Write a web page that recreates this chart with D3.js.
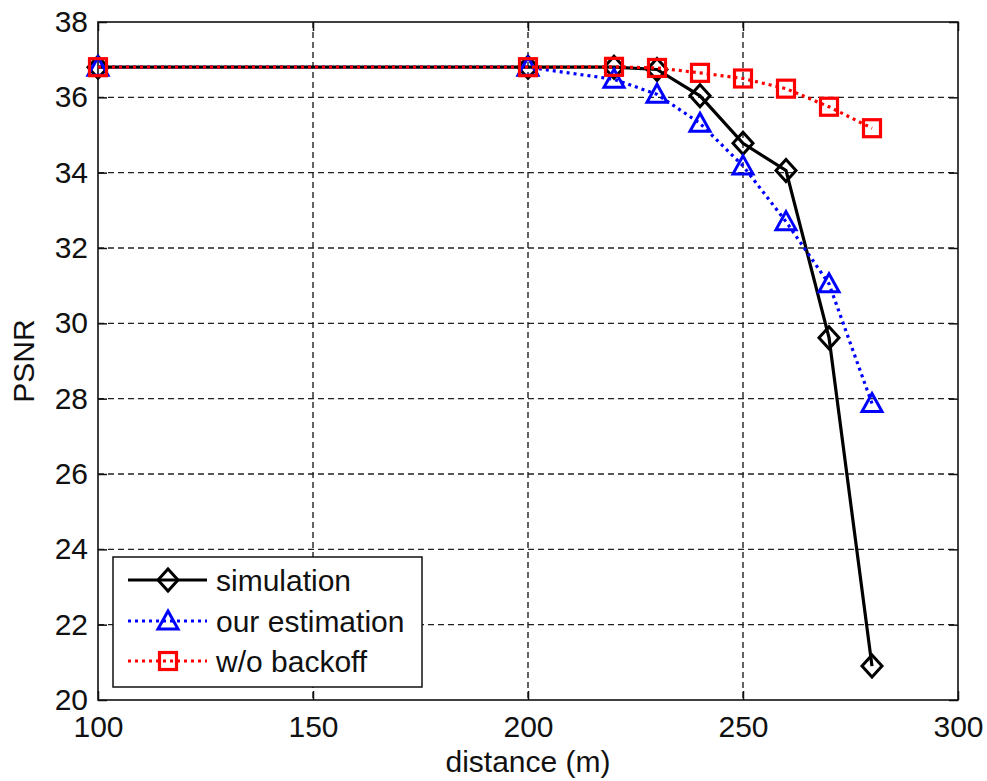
<!DOCTYPE html>
<html>
<head>
<meta charset="utf-8">
<script src="https://cdn.jsdelivr.net/npm/d3@7"></script>
<style>
  html, body { margin: 0; padding: 0; background: #fff; }
  svg { display: block; }
  text { font-family: Arial, "Liberation Sans", sans-serif; fill: #111; }
</style>
</head>
<body>
<script>
// PSNR versus distance for three schemes
const distance = [100, 200, 220, 230, 240, 250, 260, 270, 280];
const simulation = [36.8, 36.8, 36.8, 36.74, 36.04, 34.78, 34.06, 29.62, 20.9];
const ourEstimation = [36.8, 36.8, 36.48, 36.08, 35.31, 34.18, 32.7, 31.05, 27.87];
const withoutBackoff = [36.8, 36.8, 36.81, 36.78, 36.65, 36.5, 36.23, 35.75, 35.18];

const xTicks = [100, 150, 200, 250, 300];
const yTicks = [20, 22, 24, 26, 28, 30, 32, 34, 36, 38];
const seriesNames = ["simulation", "our estimation", "w/o backoff"];

const W = 987, H = 781;
const plotL = 98, plotR = 958, plotT = 22, plotB = 700;

const svg = d3.select("body").append("svg").attr("width", W).attr("height", H);

const x = d3.scaleLinear().domain([100, 300]).range([plotL, plotR]);
const y = d3.scaleLinear().domain([20, 38]).range([plotB, plotT]);

// dashed grid
const grid = svg.append("g");
grid.selectAll("line.gx").data(xTicks.slice(1, -1)).enter().append("line")
  .attr("x1", d => x(d)).attr("x2", d => x(d)).attr("y1", plotT).attr("y2", plotB)
  .attr("stroke", "#222").attr("stroke-width", 1.4).attr("stroke-dasharray", "6,4");
grid.selectAll("line.gy").data(yTicks.slice(1, -1)).enter().append("line")
  .attr("x1", plotL).attr("x2", plotR).attr("y1", d => y(d)).attr("y2", d => y(d))
  .attr("stroke", "#222").attr("stroke-width", 1.4).attr("stroke-dasharray", "6,4");

// axes with inward ticks on all four sides
function styleAxis(g, showText) {
  g.select(".domain").remove();
  g.selectAll(".tick line").attr("stroke", "#111").attr("stroke-width", 1.5);
  g.selectAll(".tick text").style("font-size", "30px").attr("fill", "#111")
    .style("font-family", "Arial, 'Liberation Sans', sans-serif");
  if (!showText) g.selectAll(".tick text").remove();
}
svg.append("g").attr("transform", `translate(0,${plotB})`)
  .call(d3.axisBottom(x).tickValues(xTicks).tickSize(-9).tickPadding(16).tickFormat(d3.format("d")))
  .call(g => styleAxis(g, true));
svg.append("g").attr("transform", `translate(0,${plotT})`)
  .call(d3.axisTop(x).tickValues(xTicks).tickSize(-9))
  .call(g => styleAxis(g, false));
svg.append("g").attr("transform", `translate(${plotL},0)`)
  .call(d3.axisLeft(y).tickValues(yTicks).tickSize(-9).tickPadding(10).tickFormat(d3.format("d")))
  .call(g => styleAxis(g, true));
svg.append("g").attr("transform", `translate(${plotR},0)`)
  .call(d3.axisRight(y).tickValues(yTicks).tickSize(-9))
  .call(g => styleAxis(g, false));

svg.append("rect").attr("x", plotL).attr("y", plotT).attr("width", plotR - plotL).attr("height", plotB - plotT)
  .attr("fill", "none").attr("stroke", "#111").attr("stroke-width", 1.6);

// axis titles
svg.append("text").attr("x", (plotL + plotR) / 2).attr("y", 772).attr("text-anchor", "middle")
  .style("font-size", "30px").text("distance (m)");
svg.append("text").attr("transform", `translate(34,${(plotT + plotB) / 2}) rotate(-90)`)
  .attr("text-anchor", "middle").style("font-size", "30px").text("PSNR");

// marker shapes
function marker(g, kind, cx, cy, color) {
  if (kind === "diamond") {
    g.append("path").attr("d", `M${cx},${cy - 11}L${cx + 10},${cy}L${cx},${cy + 11}L${cx - 10},${cy}Z`)
      .attr("fill", "none").attr("stroke", color).attr("stroke-width", 3);
  } else if (kind === "triangle") {
    g.append("path").attr("d", `M${cx},${cy - 10}L${cx + 10},${cy + 8}L${cx - 10},${cy + 8}Z`)
      .attr("fill", "none").attr("stroke", color).attr("stroke-width", 3);
  } else {
    g.append("rect").attr("x", cx - 8.5).attr("y", cy - 8.5).attr("width", 17).attr("height", 17)
      .attr("fill", "none").attr("stroke", color).attr("stroke-width", 3.2);
  }
}

const series = [
  { name: seriesNames[0], values: simulation, color: "#000", dash: null, width: 3.2, kind: "diamond" },
  { name: seriesNames[1], values: ourEstimation, color: "#0000ff", dash: "3,4", width: 3.2, kind: "triangle" },
  { name: seriesNames[2], values: withoutBackoff, color: "#ff0000", dash: "3,4", width: 3.2, kind: "square" }
];

const line = d3.line().x(d => x(d[0])).y(d => y(d[1]));
series.forEach(s => {
  const pts = distance.map((d, i) => [d, s.values[i]]);
  const g = svg.append("g");
  g.append("path").attr("d", line(pts)).attr("fill", "none").attr("stroke", s.color)
    .attr("stroke-width", s.width).attr("stroke-dasharray", s.dash);
  pts.forEach(p => marker(g, s.kind, x(p[0]), y(p[1]), s.color));
});

// legend
const lg = svg.append("g");
lg.append("rect").attr("x", 113).attr("y", 557).attr("width", 309).attr("height", 130)
  .attr("fill", "#fff").attr("stroke", "#111").attr("stroke-width", 1.5);
const legendY = [580, 621, 661];
series.forEach((s, i) => {
  const ly = legendY[i];
  lg.append("line").attr("x1", 128).attr("x2", 207).attr("y1", ly).attr("y2", ly)
    .attr("stroke", s.color).attr("stroke-width", s.width).attr("stroke-dasharray", s.dash);
  marker(lg, s.kind, 168, ly, s.color);
  lg.append("text").attr("x", 216).attr("y", ly + 11).style("font-size", "30px").text(s.name);
});
</script>
</body>
</html>
